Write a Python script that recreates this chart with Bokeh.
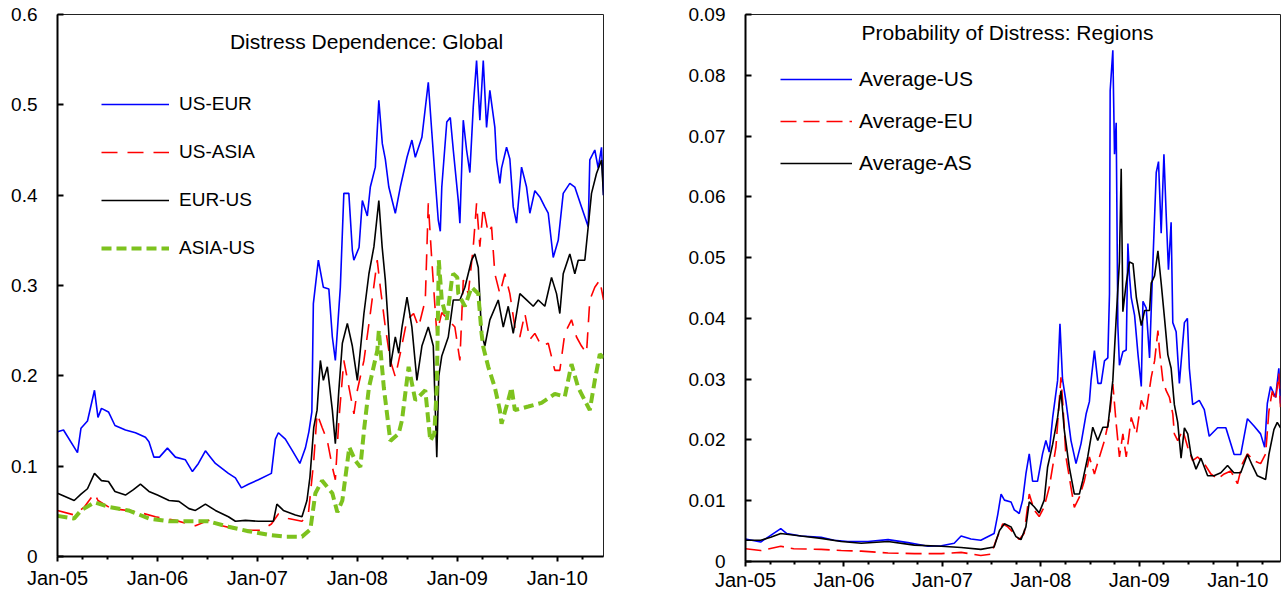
from bokeh.plotting import figure
from bokeh.layouts import row, column
from bokeh.models import FixedTicker, Legend, LegendItem, Label, Range1d
from bokeh.embed import file_html
from bokeh.resources import INLINE

FONT = "Liberation Sans"

# ---------------- tick labels ----------------
year_ticks = [2005, 2006, 2007, 2008, 2009, 2010]
year_labels = ["Jan-05", "Jan-06", "Jan-07", "Jan-08", "Jan-09", "Jan-10"]
quarter_ticks = [2005.25, 2005.5, 2005.75, 2006.25, 2006.5, 2006.75, 2007.25, 2007.5,
                 2007.75, 2008.25, 2008.5, 2008.75, 2009.25, 2009.5, 2009.75, 2010.25]
left_y_ticks = [0, 0.1, 0.2, 0.3, 0.4, 0.5, 0.6]
left_y_labels = ["0", "0.1", "0.2", "0.3", "0.4", "0.5", "0.6"]
right_y_ticks = [0, 0.01, 0.02, 0.03, 0.04, 0.05, 0.06, 0.07, 0.08, 0.09]
right_y_labels = ["0", "0.01", "0.02", "0.03", "0.04", "0.05", "0.06", "0.07", "0.08", "0.09"]

# ---------------- left panel: Distress Dependence (date as decimal year, value) ----------------
us_eur = [(2005.00, 0.138), (2005.06, 0.140), (2005.20, 0.115), (2005.235, 0.142), (2005.30, 0.150),
          (2005.37, 0.184), (2005.405, 0.154), (2005.44, 0.164), (2005.51, 0.160), (2005.575, 0.145),
          (2005.68, 0.140), (2005.78, 0.137), (2005.88, 0.132), (2005.915, 0.127), (2005.965, 0.110),
          (2006.02, 0.110), (2006.10, 0.120), (2006.18, 0.110), (2006.28, 0.107), (2006.35, 0.094),
          (2006.41, 0.103), (2006.48, 0.117), (2006.53, 0.110), (2006.58, 0.103), (2006.71, 0.092),
          (2006.78, 0.087), (2006.84, 0.076), (2006.91, 0.080), (2007.01, 0.085), (2007.14, 0.092),
          (2007.18, 0.130), (2007.21, 0.137), (2007.28, 0.130), (2007.345, 0.118), (2007.425, 0.103),
          (2007.48, 0.120), (2007.515, 0.138), (2007.545, 0.160), (2007.56, 0.280), (2007.61, 0.328),
          (2007.66, 0.298), (2007.715, 0.296), (2007.75, 0.243), (2007.78, 0.217), (2007.83, 0.298),
          (2007.865, 0.402), (2007.915, 0.402), (2007.95, 0.339), (2007.965, 0.328), (2008.017, 0.342),
          (2008.05, 0.394), (2008.10, 0.377), (2008.13, 0.409), (2008.18, 0.431), (2008.215, 0.505),
          (2008.25, 0.457), (2008.28, 0.440), (2008.315, 0.409), (2008.38, 0.380), (2008.43, 0.409),
          (2008.497, 0.442), (2008.546, 0.461), (2008.58, 0.442), (2008.646, 0.464), (2008.71, 0.525),
          (2008.745, 0.470), (2008.78, 0.416), (2008.81, 0.372), (2008.83, 0.360), (2008.845, 0.409),
          (2008.895, 0.481), (2008.93, 0.486), (2008.96, 0.450), (2009.01, 0.394), (2009.026, 0.369),
          (2009.06, 0.483), (2009.093, 0.450), (2009.126, 0.425), (2009.16, 0.498), (2009.193, 0.549),
          (2009.226, 0.483), (2009.26, 0.549), (2009.293, 0.475), (2009.326, 0.516), (2009.376, 0.475),
          (2009.393, 0.439), (2009.426, 0.413), (2009.443, 0.430), (2009.493, 0.453), (2009.526, 0.440),
          (2009.56, 0.387), (2009.593, 0.369), (2009.643, 0.431), (2009.693, 0.409), (2009.726, 0.380),
          (2009.776, 0.405), (2009.826, 0.398), (2009.876, 0.387), (2009.91, 0.380), (2009.96, 0.331),
          (2010.01, 0.350), (2010.06, 0.402), (2010.126, 0.413), (2010.176, 0.409), (2010.243, 0.387),
          (2010.31, 0.365), (2010.326, 0.439), (2010.376, 0.450), (2010.41, 0.430), (2010.443, 0.453),
          (2010.463, 0.400)]

us_asia = [(2005.00, 0.051), (2005.167, 0.046), (2005.27, 0.055), (2005.37, 0.070), (2005.405, 0.062),
           (2005.54, 0.053), (2005.78, 0.050), (2005.98, 0.044), (2006.18, 0.040), (2006.38, 0.034),
           (2006.51, 0.040), (2006.645, 0.034), (2006.84, 0.029), (2007.04, 0.029), (2007.14, 0.036),
           (2007.21, 0.047), (2007.31, 0.042), (2007.446, 0.039), (2007.51, 0.047), (2007.564, 0.106),
           (2007.597, 0.158), (2007.647, 0.143), (2007.70, 0.128), (2007.75, 0.099), (2007.78, 0.085),
           (2007.815, 0.151), (2007.865, 0.217), (2007.915, 0.188), (2007.966, 0.158), (2008.00, 0.184),
           (2008.066, 0.217), (2008.13, 0.269), (2008.199, 0.328), (2008.23, 0.298), (2008.28, 0.254),
           (2008.33, 0.217), (2008.38, 0.199), (2008.43, 0.225), (2008.497, 0.262), (2008.563, 0.269),
           (2008.613, 0.254), (2008.68, 0.284), (2008.71, 0.391), (2008.745, 0.328), (2008.795, 0.247),
           (2008.845, 0.270), (2008.91, 0.262), (2008.976, 0.254), (2009.026, 0.217), (2009.06, 0.306),
           (2009.11, 0.291), (2009.16, 0.343), (2009.193, 0.391), (2009.226, 0.343), (2009.26, 0.387),
           (2009.31, 0.358), (2009.343, 0.365), (2009.376, 0.313), (2009.426, 0.291), (2009.476, 0.313),
           (2009.526, 0.291), (2009.576, 0.254), (2009.626, 0.243), (2009.676, 0.269), (2009.726, 0.240),
           (2009.776, 0.247), (2009.843, 0.233), (2009.91, 0.236), (2009.976, 0.206), (2010.026, 0.206),
           (2010.076, 0.247), (2010.143, 0.262), (2010.193, 0.243), (2010.243, 0.233), (2010.293, 0.225),
           (2010.326, 0.284), (2010.376, 0.298), (2010.426, 0.306), (2010.463, 0.284)]

eur_us = [(2005.00, 0.070), (2005.167, 0.062), (2005.235, 0.069), (2005.30, 0.075), (2005.37, 0.092),
          (2005.44, 0.084), (2005.51, 0.083), (2005.575, 0.072), (2005.68, 0.068), (2005.76, 0.074),
          (2005.83, 0.080), (2005.915, 0.072), (2006.00, 0.068), (2006.116, 0.062), (2006.215, 0.061),
          (2006.315, 0.053), (2006.38, 0.051), (2006.48, 0.058), (2006.58, 0.051), (2006.71, 0.044),
          (2006.78, 0.039), (2006.88, 0.040), (2007.01, 0.039), (2007.16, 0.039), (2007.195, 0.058),
          (2007.26, 0.051), (2007.38, 0.046), (2007.446, 0.044), (2007.496, 0.062), (2007.526, 0.088),
          (2007.564, 0.143), (2007.597, 0.162), (2007.63, 0.217), (2007.66, 0.195), (2007.70, 0.210),
          (2007.75, 0.162), (2007.78, 0.125), (2007.815, 0.184), (2007.85, 0.236), (2007.90, 0.258),
          (2007.95, 0.233), (2008.00, 0.195), (2008.066, 0.269), (2008.116, 0.313), (2008.166, 0.343),
          (2008.215, 0.394), (2008.248, 0.343), (2008.28, 0.306), (2008.315, 0.247), (2008.33, 0.210),
          (2008.38, 0.243), (2008.414, 0.225), (2008.447, 0.254), (2008.497, 0.287), (2008.546, 0.254),
          (2008.596, 0.195), (2008.646, 0.233), (2008.71, 0.254), (2008.76, 0.233), (2008.795, 0.110),
          (2008.815, 0.200), (2008.845, 0.222), (2008.91, 0.243), (2008.96, 0.284), (2009.026, 0.284),
          (2009.076, 0.298), (2009.143, 0.328), (2009.176, 0.335), (2009.21, 0.320), (2009.243, 0.247),
          (2009.276, 0.233), (2009.326, 0.262), (2009.41, 0.284), (2009.46, 0.254), (2009.51, 0.277),
          (2009.56, 0.247), (2009.626, 0.291), (2009.693, 0.284), (2009.76, 0.277), (2009.81, 0.284),
          (2009.876, 0.277), (2009.943, 0.309), (2009.993, 0.291), (2010.026, 0.269), (2010.06, 0.313),
          (2010.126, 0.335), (2010.176, 0.313), (2010.21, 0.328), (2010.276, 0.328), (2010.31, 0.365),
          (2010.343, 0.402), (2010.393, 0.424), (2010.443, 0.439), (2010.463, 0.400)]

asia_us = [(2005.00, 0.045), (2005.167, 0.042), (2005.235, 0.051), (2005.37, 0.060), (2005.51, 0.055),
           (2005.71, 0.051), (2005.915, 0.042), (2006.116, 0.039), (2006.315, 0.039), (2006.51, 0.039),
           (2006.71, 0.033), (2006.91, 0.028), (2007.11, 0.024), (2007.28, 0.022), (2007.446, 0.022),
           (2007.53, 0.030), (2007.58, 0.070), (2007.647, 0.084), (2007.75, 0.070), (2007.80, 0.049),
           (2007.85, 0.062), (2007.92, 0.121), (2007.98, 0.106), (2008.03, 0.099), (2008.07, 0.143),
           (2008.116, 0.187), (2008.20, 0.228), (2008.215, 0.250), (2008.265, 0.187), (2008.33, 0.128),
           (2008.414, 0.136), (2008.447, 0.151), (2008.513, 0.210), (2008.58, 0.173), (2008.68, 0.184),
           (2008.73, 0.128), (2008.77, 0.136), (2008.795, 0.187), (2008.815, 0.328), (2008.845, 0.284),
           (2008.895, 0.262), (2008.945, 0.306), (2008.96, 0.313), (2009.00, 0.309), (2009.01, 0.291),
           (2009.076, 0.277), (2009.143, 0.298), (2009.21, 0.291), (2009.243, 0.247), (2009.26, 0.232),
           (2009.31, 0.210), (2009.376, 0.187), (2009.426, 0.162), (2009.443, 0.147), (2009.51, 0.173),
           (2009.543, 0.187), (2009.576, 0.162), (2009.71, 0.166), (2009.843, 0.170), (2009.976, 0.180),
           (2010.076, 0.177), (2010.143, 0.213), (2010.21, 0.187), (2010.326, 0.162), (2010.376, 0.195),
           (2010.426, 0.224), (2010.463, 0.220)]

# ---------------- right panel: Probability of Distress ----------------
avg_us = [(2005.00, 0.0037), (2005.154, 0.0032), (2005.256, 0.0043), (2005.358, 0.0054), (2005.42, 0.0046),
          (2005.563, 0.0042), (2005.768, 0.0040), (2005.90, 0.0035), (2006.04, 0.0033), (2006.244, 0.0033),
          (2006.448, 0.0036), (2006.65, 0.0031), (2006.855, 0.0025), (2006.99, 0.0026), (2007.12, 0.0030),
          (2007.19, 0.0042), (2007.29, 0.0037), (2007.39, 0.0035), (2007.525, 0.0046), (2007.563, 0.0078),
          (2007.596, 0.0111), (2007.63, 0.0101), (2007.697, 0.0098), (2007.73, 0.0085), (2007.78, 0.0079),
          (2007.815, 0.0101), (2007.848, 0.0144), (2007.882, 0.0177), (2007.916, 0.0132), (2007.966, 0.0132),
          (2008.017, 0.0177), (2008.051, 0.0199), (2008.085, 0.0180), (2008.12, 0.0237), (2008.17, 0.0298),
          (2008.194, 0.0391), (2008.22, 0.0300), (2008.255, 0.0263), (2008.306, 0.0199), (2008.357, 0.0161),
          (2008.408, 0.0194), (2008.46, 0.0243), (2008.493, 0.0263), (2008.51, 0.0298), (2008.544, 0.0347),
          (2008.58, 0.0293), (2008.612, 0.0293), (2008.646, 0.0330), (2008.68, 0.0335), (2008.697, 0.0440),
          (2008.704, 0.0775), (2008.731, 0.0841), (2008.748, 0.0670), (2008.765, 0.0722), (2008.782, 0.0388),
          (2008.798, 0.0323), (2008.833, 0.0345), (2008.867, 0.0348), (2008.884, 0.0523), (2008.90, 0.0470),
          (2008.918, 0.0434), (2008.952, 0.0405), (2008.987, 0.0340), (2009.02, 0.0288), (2009.037, 0.0428),
          (2009.07, 0.0417), (2009.104, 0.0335), (2009.138, 0.0493), (2009.172, 0.0640), (2009.195, 0.0658),
          (2009.222, 0.0540), (2009.25, 0.0670), (2009.273, 0.0570), (2009.296, 0.0480), (2009.323, 0.0558),
          (2009.34, 0.0393), (2009.374, 0.0378), (2009.407, 0.0293), (2009.458, 0.0393), (2009.488, 0.0400),
          (2009.508, 0.0318), (2009.542, 0.0258), (2009.609, 0.0265), (2009.66, 0.0250), (2009.71, 0.0206),
          (2009.795, 0.0220), (2009.879, 0.0220), (2009.963, 0.0176), (2010.03, 0.0176), (2010.098, 0.0235),
          (2010.165, 0.0223), (2010.232, 0.0210), (2010.273, 0.0188), (2010.30, 0.0260), (2010.333, 0.0288),
          (2010.384, 0.0270), (2010.417, 0.0318), (2010.434, 0.0260)]

avg_eu = [(2005.00, 0.0021), (2005.154, 0.0018), (2005.358, 0.0025), (2005.49, 0.0021), (2005.768, 0.0020),
          (2005.972, 0.0018), (2006.176, 0.0017), (2006.448, 0.0014), (2006.715, 0.0013), (2006.99, 0.0013),
          (2007.19, 0.0015), (2007.39, 0.0010), (2007.495, 0.0012), (2007.545, 0.0035), (2007.613, 0.0062),
          (2007.664, 0.0057), (2007.73, 0.0046), (2007.78, 0.0036), (2007.83, 0.0046), (2007.882, 0.0111),
          (2007.932, 0.0085), (2007.983, 0.0074), (2008.034, 0.0090), (2008.085, 0.0122), (2008.153, 0.0188),
          (2008.204, 0.0303), (2008.221, 0.0265), (2008.255, 0.0172), (2008.306, 0.0122), (2008.34, 0.0089),
          (2008.391, 0.0106), (2008.442, 0.0133), (2008.493, 0.0172), (2008.544, 0.0144), (2008.595, 0.0172),
          (2008.646, 0.0199), (2008.697, 0.0237), (2008.731, 0.0292), (2008.765, 0.0227), (2008.798, 0.0172),
          (2008.833, 0.0210), (2008.867, 0.0172), (2008.918, 0.0237), (2008.97, 0.0210), (2009.02, 0.0265),
          (2009.07, 0.0247), (2009.121, 0.0303), (2009.155, 0.0330), (2009.189, 0.0380), (2009.205, 0.0347),
          (2009.239, 0.0298), (2009.273, 0.0281), (2009.306, 0.0270), (2009.34, 0.0243), (2009.356, 0.0210),
          (2009.39, 0.0199), (2009.441, 0.0216), (2009.492, 0.0188), (2009.542, 0.0166), (2009.593, 0.0172),
          (2009.66, 0.0161), (2009.727, 0.0144), (2009.795, 0.0136), (2009.862, 0.0144), (2009.929, 0.0149),
          (2009.997, 0.0128), (2010.047, 0.0161), (2010.098, 0.0177), (2010.165, 0.0166), (2010.232, 0.0161),
          (2010.283, 0.0177), (2010.316, 0.0247), (2010.35, 0.0280), (2010.384, 0.0265), (2010.417, 0.0309),
          (2010.434, 0.0254)]

avg_as = [(2005.00, 0.0035), (2005.154, 0.0035), (2005.256, 0.0040), (2005.358, 0.0046), (2005.563, 0.0042),
          (2005.768, 0.0038), (2005.972, 0.0033), (2006.176, 0.0030), (2006.448, 0.0033), (2006.715, 0.0027),
          (2006.99, 0.0025), (2007.19, 0.0023), (2007.39, 0.0020), (2007.525, 0.0024), (2007.58, 0.0051),
          (2007.63, 0.0062), (2007.697, 0.0057), (2007.747, 0.0041), (2007.798, 0.0036), (2007.848, 0.0057),
          (2007.882, 0.0098), (2007.932, 0.0090), (2007.983, 0.0080), (2008.034, 0.0101), (2008.068, 0.0155),
          (2008.12, 0.0193), (2008.17, 0.0237), (2008.204, 0.0281), (2008.238, 0.0216), (2008.289, 0.0155),
          (2008.34, 0.0111), (2008.391, 0.0111), (2008.425, 0.0133), (2008.476, 0.0172), (2008.527, 0.0221),
          (2008.578, 0.0199), (2008.63, 0.0221), (2008.68, 0.0221), (2008.731, 0.0298), (2008.765, 0.0400),
          (2008.798, 0.0493), (2008.816, 0.0646), (2008.833, 0.0411), (2008.867, 0.0458), (2008.90, 0.0493),
          (2008.936, 0.0490), (2008.97, 0.0434), (2009.02, 0.0388), (2009.054, 0.0413), (2009.104, 0.0413),
          (2009.121, 0.0458), (2009.155, 0.0470), (2009.189, 0.0511), (2009.222, 0.0458), (2009.256, 0.0400),
          (2009.29, 0.0340), (2009.323, 0.0318), (2009.356, 0.0258), (2009.39, 0.0229), (2009.424, 0.0170),
          (2009.458, 0.0220), (2009.492, 0.0210), (2009.525, 0.0176), (2009.576, 0.0152), (2009.626, 0.0170),
          (2009.694, 0.0141), (2009.758, 0.0141), (2009.828, 0.0146), (2009.896, 0.0158), (2009.96, 0.0146),
          (2010.03, 0.0146), (2010.098, 0.0176), (2010.148, 0.0158), (2010.199, 0.0141), (2010.283, 0.0135),
          (2010.316, 0.0176), (2010.367, 0.0217), (2010.401, 0.0229), (2010.434, 0.0220)]


def xs(series):
    return [t for t, _ in series]


def ys(series):
    return [v for _, v in series]


def style(p, y_ticks, y_labels, x_standoff):
    p.xgrid.visible = False
    p.ygrid.visible = False
    p.background_fill_color = "white"
    p.border_fill_color = "white"
    p.outline_line_color = "#222222"
    p.outline_line_width = 1
    p.xaxis.ticker = FixedTicker(ticks=year_ticks, minor_ticks=quarter_ticks)
    p.xaxis.major_label_overrides = dict(zip(year_ticks, year_labels))
    p.yaxis.ticker = FixedTicker(ticks=y_ticks)
    p.yaxis.major_label_overrides = dict(zip(y_ticks, y_labels))
    for ax in (p.xaxis[0], p.yaxis[0]):
        ax.axis_line_color = "black"
        ax.axis_line_width = 2
        ax.major_tick_line_color = "black"
        ax.major_tick_line_width = 2
        ax.major_label_text_font = FONT
        ax.major_label_text_color = "black"
        ax.axis_label_standoff = 0
    p.xaxis.major_tick_in = 0
    p.xaxis.major_tick_out = 5
    p.xaxis.minor_tick_in = 0
    p.xaxis.minor_tick_out = 3
    p.xaxis.minor_tick_line_color = "black"
    p.xaxis.minor_tick_line_width = 2
    p.xaxis.major_label_text_font_size = "20px"
    p.xaxis.major_label_standoff = x_standoff
    p.yaxis.major_tick_in = 6
    p.yaxis.major_tick_out = 0
    p.yaxis.minor_tick_line_color = None
    p.yaxis.major_label_text_font_size = "19px"
    p.yaxis.major_label_standoff = 20


# ---------------- left figure ----------------
p1 = figure(width=648, height=593, min_border_left=57, min_border_right=45,
            min_border_top=14, min_border_bottom=37,
            x_range=Range1d(2005.0, 2010.463), y_range=Range1d(0, 0.6),
            output_backend="svg", toolbar_location=None)
style(p1, left_y_ticks, left_y_labels, 5)

r_ue = p1.line(xs(us_eur), ys(us_eur), line_color="#0000FF", line_width=1.6)
r_ua = p1.line(xs(us_asia), ys(us_asia), line_color="#FF0000", line_width=1.6, line_dash="16 10")
r_eu = p1.line(xs(eur_us), ys(eur_us), line_color="#000000", line_width=1.6)
r_au = p1.line(xs(asia_us), ys(asia_us), line_color="#7DC21E", line_width=4, line_dash="10 5")

leg1 = Legend(items=[LegendItem(label="US-EUR", renderers=[r_ue]),
                     LegendItem(label="US-ASIA", renderers=[r_ua]),
                     LegendItem(label="EUR-US", renderers=[r_eu]),
                     LegendItem(label="ASIA-US", renderers=[r_au])],
              location=(44, 297), orientation="vertical",
              glyph_width=68, glyph_height=22, label_height=22, spacing=26,
              label_standoff=10, padding=0, margin=0,
              border_line_alpha=0, background_fill_alpha=0,
              label_text_font=FONT, label_text_font_size="19px", label_text_color="black")
p1.add_layout(leg1)
p1.add_layout(Label(x=309, y=515, x_units="screen", y_units="screen",
                    text="Distress Dependence: Global", text_font=FONT, text_font_size="21px",
                    text_align="center", text_baseline="middle", text_color="black"))

# ---------------- right figure ----------------
p2 = figure(width=637, height=593, min_border_left=97, min_border_right=5,
            min_border_top=14, min_border_bottom=32,
            x_range=Range1d(2005.0, 2010.434), y_range=Range1d(0, 0.09),
            output_backend="svg", toolbar_location=None)
style(p2, right_y_ticks, right_y_labels, 2)

r_us = p2.line(xs(avg_us), ys(avg_us), line_color="#0000FF", line_width=1.6)
r_eu2 = p2.line(xs(avg_eu), ys(avg_eu), line_color="#FF0000", line_width=1.6, line_dash="16 7")
r_as = p2.line(xs(avg_as), ys(avg_as), line_color="#000000", line_width=1.6)

leg2 = Legend(items=[LegendItem(label="Average-US", renderers=[r_us]),
                     LegendItem(label="Average-EU", renderers=[r_eu2]),
                     LegendItem(label="Average-AS", renderers=[r_as])],
              location=(35, 386), orientation="vertical",
              glyph_width=72, glyph_height=22, label_height=24, spacing=18,
              label_standoff=7, padding=0, margin=0,
              border_line_alpha=0, background_fill_alpha=0,
              label_text_font=FONT, label_text_font_size="21px", label_text_color="black")
p2.add_layout(leg2)
p2.add_layout(Label(x=262, y=529, x_units="screen", y_units="screen",
                    text="Probability of Distress: Regions", text_font=FONT, text_font_size="21px",
                    text_align="center", text_baseline="middle", text_color="black"))

layout = row(column(p1), column(p2))
open("out.html", "w").write(file_html(layout, INLINE))
